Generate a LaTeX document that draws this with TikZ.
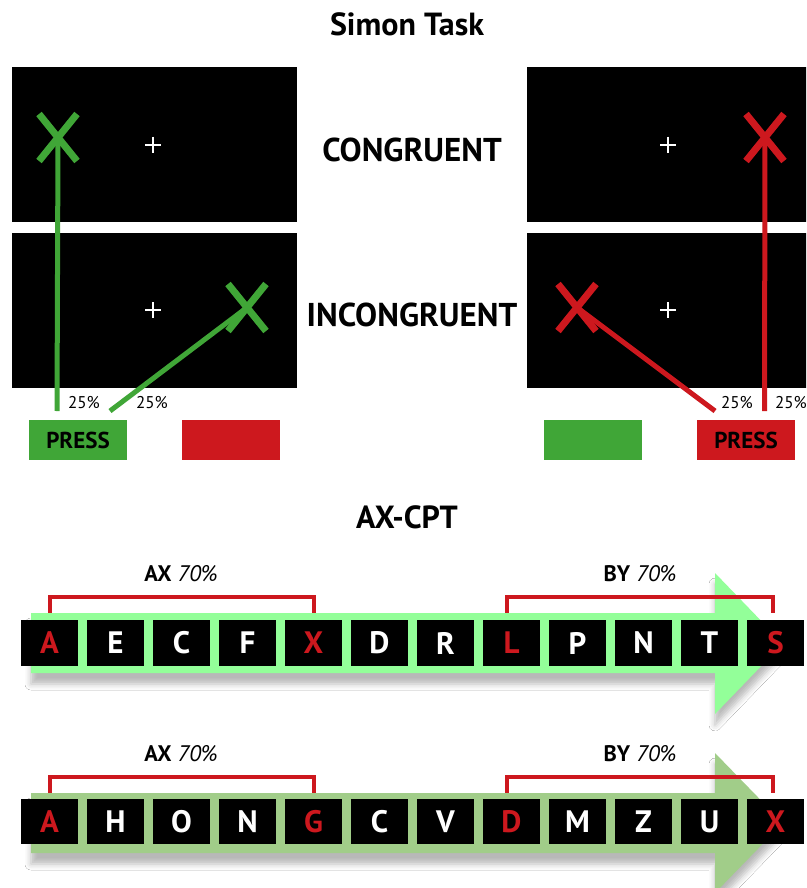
\documentclass[tikz,border=0pt]{standalone}
\usepackage{fontspec}
\setmainfont{PT Sans}
\usetikzlibrary{shapes.misc,shadows.blur}

\definecolor{pressgreen}{RGB}{64,166,55}
\definecolor{pressred}{RGB}{205,24,30}
\definecolor{bandbright}{RGB}{147,255,153}
\definecolor{bandsoft}{RGB}{161,205,137}

\tikzset{
  screen/.style={fill=black, draw=none, inner sep=0pt, minimum width=285, minimum height=155},
  fixcross/.style={white, line width=2},
  target/.style={cross out, draw=#1, line width=7, inner sep=0pt, minimum width=31, minimum height=40},
  response/.style={draw=#1, line width=5},
  pct/.style={font=\fontsize{17}{20}\selectfont, inner sep=0pt},
  key/.style={fill=#1, inner sep=0pt, minimum width=98, minimum height=40,
              font=\fontsize{23}{26}\selectfont\bfseries},
  heading/.style={font=\fontsize{32}{36}\selectfont\bfseries, inner sep=0pt},
  condition/.style={font=\fontsize{33}{38}\selectfont\bfseries, inner sep=0pt},
  letterbox/.style={fill=black, inner sep=0pt, minimum width=57, minimum height=46,
                    font=\fontsize{31}{36}\selectfont\bfseries},
  band/.style={fill=#1, draw=none,
    blur shadow={shadow xshift=0pt, shadow yshift=-11pt, shadow blur radius=6pt, shadow opacity=28}},
  bracket/.style={draw=pressred, line width=4},
  pairlabel/.style={font=\fontsize{22.5}{26}\selectfont, inner sep=0pt},
}

\begin{document}
\begin{tikzpicture}[x=1pt, y=-1pt]
  \clip (0,0) rectangle (806,888);
  \fill[white] (0,0) rectangle (806,888);

  % ---------------- Simon task ----------------
  \node[heading] (simon) at (407,24) {Simon Task};

  \node[screen] (s1) at (154.5,144.5) {};
  \node[screen] (s2) at (154.5,310) {};
  \node[screen] (s3) at (669.5,144.5) {};
  \node[screen] (s4) at (669.5,310) {};

  \foreach \s in {s1,s2,s3,s4}{
    \draw[fixcross] ([xshift=-9.5pt]\s.center) -- ([xshift=6.5pt]\s.center)
                    ([xshift=-1.5pt,yshift=8pt]\s.center) -- ([xshift=-1.5pt,yshift=-8pt]\s.center);
  }

  \node[condition] (cong) at (412,150) {CONGRUENT};
  \node[condition] (incong) at (412,315) {INCONGRUENT};

  % response keys
  \node[key=pressgreen] (kL1) at (78,440) {PRESS};
  \node[key=pressred]   (kL2) at (231,440) {};
  \node[key=pressgreen] (kR1) at (593,440) {};
  \node[key=pressred]   (kR2) at (746,440) {PRESS};

  % line ends above the keys
  \coordinate (eL1) at (57,411);
  \coordinate (eL2) at (110,411);
  \coordinate (eR1) at (715,411);
  \coordinate (eR2) at (764.5,411);

  % stimulus positions
  \coordinate (xL1) at (58,137.5);
  \coordinate (xL2) at (247,307.5);
  \coordinate (xR1) at (765,137.5);
  \coordinate (xR2) at (577,307.5);

  \draw[response=pressgreen] (xL1) -- (eL1);
  \draw[response=pressgreen] (xL2) -- (eL2);
  \draw[response=pressred]   (xR1) -- (eR2);
  \draw[response=pressred]   (xR2) -- (eR1);

  \node[target=pressgreen] (tL1) at (xL1) {};
  \node[target=pressgreen] (tL2) at (xL2) {};
  \node[target=pressred]   (tR1) at (xR1) {};
  \node[target=pressred]   (tR2) at (xR2) {};

  \node[pct] (pL1) at (84,403) {25\%};
  \node[pct] (pL2) at (152,403) {25\%};
  \node[pct] (pR1) at (737,403) {25\%};
  \node[pct] (pR2) at (791,403) {25\%};

  % ---------------- AX-CPT ----------------
  \node[heading] (axcpt) at (407,517) {AX-CPT};

  % sequence 1
  \path[band=bandbright] (31,613) -- (715,613) -- (715,573) -- (783,643.5)
        -- (715,714) -- (715,673) -- (31,673) -- cycle;
  \foreach \l/\c [count=\i from 0] in {A/pressred,E/white,C/white,F/white,X/pressred,D/white,
                                        R/white,L/pressred,P/white,N/white,T/white,S/pressred}{
    \node[letterbox, text=\c] (a\i) at (49.5+66*\i,643) {\l};
  }
  \draw[bracket] ([yshift=7pt]a0.north) -- ++(0,-16) -| ([yshift=7pt]a4.north);
  \draw[bracket] ([xshift=-5pt,yshift=7pt]a7.north) -- ++(0,-16) -| ([xshift=-2.5pt,yshift=7pt]a11.north);
  \node[pairlabel] (ax1) at (181,574) {\textbf{AX} \textit{70\%}};
  \node[pairlabel] (by1) at (640,574) {\textbf{BY} \textit{70\%}};

  % sequence 2
  \path[band=bandsoft] (31,793) -- (715,793) -- (715,753) -- (783,823)
        -- (715,893) -- (715,853) -- (31,853) -- cycle;
  \foreach \l/\c [count=\i from 0] in {A/pressred,H/white,O/white,N/white,G/pressred,C/white,
                                        V/white,D/pressred,M/white,Z/white,U/white,X/pressred}{
    \node[letterbox, text=\c, minimum height=45] (b\i) at (49.5+66*\i,821.5) {\l};
  }
  \draw[bracket] ([yshift=6pt]b0.north) -- ++(0,-16) -| ([yshift=6pt]b4.north);
  \draw[bracket] ([xshift=-5pt,yshift=6pt]b7.north) -- ++(0,-16) -| ([xshift=-2.5pt,yshift=6pt]b11.north);
  \node[pairlabel] (ax2) at (181,754) {\textbf{AX} \textit{70\%}};
  \node[pairlabel] (by2) at (640,754) {\textbf{BY} \textit{70\%}};
\end{tikzpicture}
\end{document}
